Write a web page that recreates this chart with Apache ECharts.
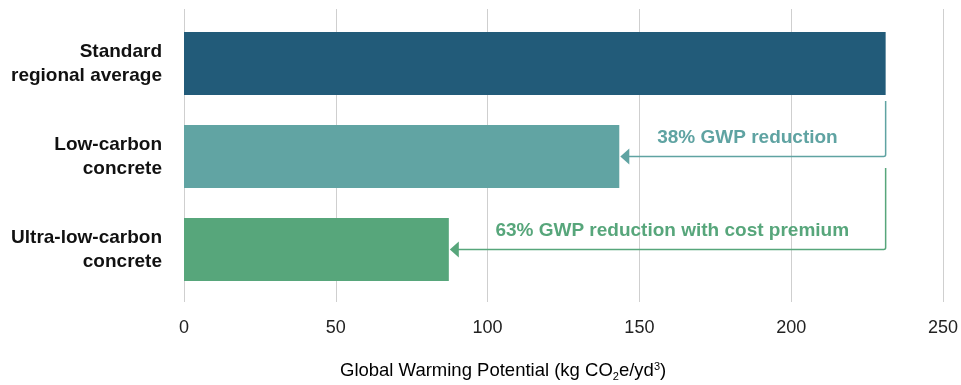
<!DOCTYPE html>
<html>
<head>
<meta charset="utf-8">
<script src="https://cdn.jsdelivr.net/npm/echarts@6/dist/echarts.min.js"></script>
<style>
  html, body { margin: 0; padding: 0; background: #fff; }
  #chart { width: 961px; height: 385px; }
</style>
</head>
<body>
<div id="chart"></div>
<script>
// Concrete mixes and their global warming potential (kg CO2e per cubic yard)
const categories = ['Standard\nregional average', 'Low-carbon\nconcrete', 'Ultra-low-carbon\nconcrete'];
const gwpValues = [230.5, 143, 87];
const barColors = ['#225b79', '#61a4a3', '#57a67b'];

// Reduction callouts: arrow from the baseline bar end to the target bar end
const calloutFrom = [230.5, 230.5];
const calloutTo = [143, 87];
const calloutTarget = [1, 2];
const calloutText = ['38% GWP reduction', '63% GWP reduction with cost premium'];
const calloutColors = ['#5fa3a2', '#57a67b'];

// Value axis ticks
const axisMin = 0, axisMax = 250, axisStep = 50;

const FONT = '"Liberation Sans", Arial, Helvetica, sans-serif';
const chart = echarts.init(document.getElementById('chart'));

chart.setOption({
  animation: false,
  grid: [
    { left: 184, right: 16, top: 9, bottom: 83 },   // gridlines + tick labels
    { left: 184, right: 16, top: 17, bottom: 89 }   // bars
  ],
  xAxis: [
    {
      gridIndex: 0, type: 'value', min: axisMin, max: axisMax, interval: axisStep,
      axisLine: { show: false }, axisTick: { show: false },
      splitLine: { show: true, lineStyle: { color: '#cfcfcf', width: 1 } },
      axisLabel: { color: '#222', fontFamily: FONT, fontSize: 18, margin: 17 }
    },
    {
      gridIndex: 1, type: 'value', min: axisMin, max: axisMax, show: false,
      splitLine: { show: false }
    }
  ],
  yAxis: [
    { gridIndex: 0, type: 'value', show: false, splitLine: { show: false } },
    {
      gridIndex: 1, type: 'category', data: categories, inverse: true,
      axisLine: { show: false }, axisTick: { show: false },
      axisLabel: {
        color: '#111', fontFamily: FONT, fontSize: 19, fontWeight: 'bold',
        lineHeight: 24, margin: 22, align: 'right'
      }
    }
  ],
  graphic: [{
    type: 'text', left: 340, top: 360,
    style: {
      text: '{a|Global Warming Potential (kg CO}{s|2}{a|e/yd}{p|3}{a|)}',
      rich: {
        a: { fontFamily: FONT, fontSize: 18.5, color: '#222', lineHeight: 24 },
        s: { fontFamily: FONT, fontSize: 11, color: '#222', lineHeight: 24, padding: [11, 0, 0, 0] },
        p: { fontFamily: FONT, fontSize: 11, color: '#222', lineHeight: 24, padding: [0, 0, 8, 0] }
      }
    }
  }],
  series: [
    {
      type: 'bar', xAxisIndex: 1, yAxisIndex: 1, barWidth: 63,
      data: gwpValues.map((v, i) => ({ value: v, itemStyle: { color: barColors[i] } }))
    },
    {
      type: 'custom', xAxisIndex: 1, yAxisIndex: 1, z: 5,
      data: calloutFrom.map((f, i) => [f, calloutTo[i], calloutTarget[i]]),
      renderItem: function (params, api) {
        const i = params.dataIndex;
        const cat = api.value(2);
        const start = api.coord([api.value(0), cat]);
        const end = api.coord([api.value(1), cat]);
        const band = api.size([0, 1])[1];
        const topY = start[1] - band * (i === 0 ? 0.597 : 0.876);
        const y = start[1];
        const color = calloutColors[i];
        const tipX = end[0] + 1;
        const r = 2;
        return {
          type: 'group',
          children: [
            {
              type: 'path',
              shape: {
                pathData: 'M' + start[0] + ' ' + topY +
                  ' L' + start[0] + ' ' + (y - r) +
                  ' Q' + start[0] + ' ' + y + ' ' + (start[0] - r) + ' ' + y +
                  ' L' + (tipX + 8) + ' ' + y
              },
              style: { stroke: color, lineWidth: 1.5, fill: null }
            },
            {
              type: 'polygon',
              shape: { points: [[tipX, y], [tipX + 9, y - 8], [tipX + 9, y + 8]] },
              style: { fill: color }
            },
            {
              type: 'text',
              style: {
                text: calloutText[i],
                x: (start[0] + end[0]) / 2 + (i === 0 ? -5 : 5), y: y - 19,
                align: 'center', verticalAlign: 'middle',
                fill: color, font: 'bold 19px ' + FONT
              }
            }
          ]
        };
      }
    }
  ]
});
</script>
</body>
</html>
